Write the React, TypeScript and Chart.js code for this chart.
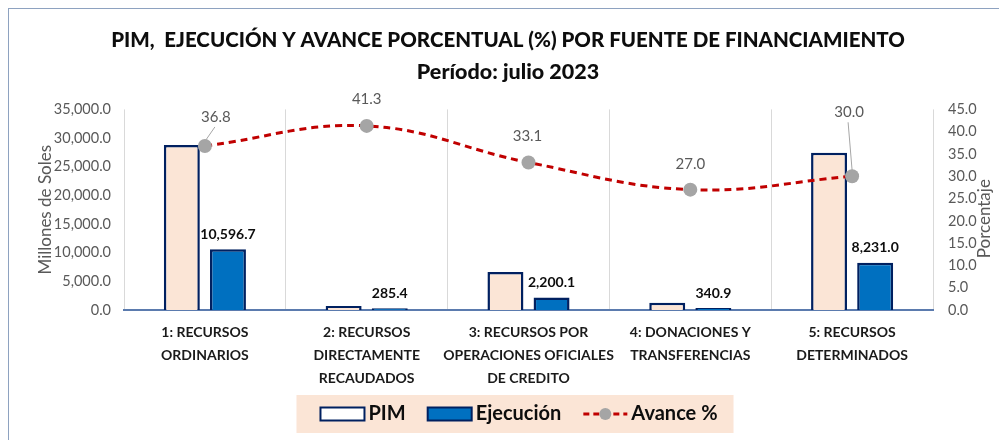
import React, { useEffect, useRef } from "react";
import { Chart, registerables } from "chart.js";

Chart.register(...registerables);

const categories: string[][] = [
  ["1: RECURSOS", "ORDINARIOS"],
  ["2: RECURSOS", "DIRECTAMENTE", "RECAUDADOS"],
  ["3: RECURSOS POR", "OPERACIONES OFICIALES", "DE CREDITO"],
  ["4: DONACIONES Y", "TRANSFERENCIAS"],
  ["5: RECURSOS", "DETERMINADOS"],
];
const pimValues = [28795, 691, 6647, 1263, 27437];
const ejecucionValues = [10596.7, 285.4, 2200.1, 340.9, 8231.0];
const avanceValues = [36.8, 41.3, 33.1, 27.0, 30.0];

const titleText = "PIM,  EJECUCIÓN Y AVANCE PORCENTUAL (%) POR FUENTE DE FINANCIAMIENTO";
const subtitleText = "Período: julio 2023";
const leftAxisTitle = "Millones de Soles";
const rightAxisTitle = "Porcentaje";

// label placement for the Avance % labels: [dx, dy, leader line]
const avanceLabelPlacement: [number, number, boolean][] = [
  [11, -29, true],
  [0, -27, false],
  [-1, -26, false],
  [0, -25, false],
  [-3, -64, true],
];

const FONT = 'Lato, "Liberation Sans", sans-serif';

const fmt1 = (v: number) =>
  v.toLocaleString("en-US", { minimumFractionDigits: 1, maximumFractionDigits: 1 });

const labelsPlugin = {
  id: "valueLabels",
  afterDatasetsDraw(chart: any) {
    const ctx = chart.ctx;
    ctx.save();
    const barMeta = chart.getDatasetMeta(1);
    ctx.font = `bold 14px ${FONT}`;
    ctx.fillStyle = "#0D0D0D";
    ctx.textAlign = "center";
    ctx.textBaseline = "middle";
    barMeta.data.forEach((el: any, i: number) => {
      ctx.fillText(fmt1(ejecucionValues[i]), el.x, el.y - 15);
    });
    const lineMeta = chart.getDatasetMeta(2);
    ctx.font = `15px ${FONT}`;
    ctx.fillStyle = "#595959";
    lineMeta.data.forEach((el: any, i: number) => {
      const [dx, dy, leader] = avanceLabelPlacement[i];
      const lx = el.x + dx;
      const ly = el.y + dy;
      if (leader) {
        ctx.strokeStyle = "#A6A6A6";
        ctx.lineWidth = 1;
        ctx.beginPath();
        ctx.moveTo(lx - 1, ly + 10);
        ctx.lineTo(el.x + (dx > 0 ? 1 : 0), el.y - 6);
        ctx.stroke();
      }
      ctx.fillText(fmt1(avanceValues[i]), lx, ly);
    });
    ctx.restore();
  },
};

const rightTitlePlugin = {
  id: "rightTitle",
  afterDraw(chart: any) {
    const ctx = chart.ctx;
    const s = chart.scales.y1;
    ctx.save();
    ctx.font = `17px ${FONT}`;
    ctx.fillStyle = "#595959";
    ctx.textAlign = "center";
    ctx.textBaseline = "middle";
    ctx.translate(s.right - 22, (s.top + s.bottom) / 2 + 9);
    ctx.rotate(-Math.PI / 2);
    ctx.fillText(rightAxisTitle, 0, 0);
    ctx.restore();
  },
};

const legendPlugin = {
  id: "customLegend",
  afterDraw(chart: any) {
    const ctx = chart.ctx;
    const ds = chart.data.datasets;
    ctx.save();
    ctx.font = `bold 20px ${FONT}`;
    const symW = 44;
    const gapSym = 4;
    const gapItem = 22;
    const padL = 24;
    const padR = 16;
    const texts = ds.map((d: any) => d.label);
    let total = padL + padR;
    texts.forEach((t: string, i: number) => {
      total += symW + gapSym + ctx.measureText(t).width;
      if (i < texts.length - 1) total += gapItem;
    });
    const boxH = 38;
    const left = chart.width / 2 + 7 - total / 2;
    const top = chart.height - 45;
    ctx.fillStyle = "#FBE5D6";
    ctx.fillRect(left, top, total, boxH);
    const cy = top + boxH / 2;
    let x = left + padL;
    ds.forEach((d: any, i: number) => {
      if (d.type === "line") {
        ctx.strokeStyle = d.borderColor;
        ctx.lineWidth = 3;
        ctx.setLineDash([6, 4]);
        ctx.beginPath();
        ctx.moveTo(x, cy);
        ctx.lineTo(x + symW, cy);
        ctx.stroke();
        ctx.setLineDash([]);
        ctx.fillStyle = d.pointBackgroundColor;
        ctx.beginPath();
        ctx.arc(x + symW / 2, cy, 6, 0, Math.PI * 2);
        ctx.fill();
      } else {
        ctx.fillStyle = i === 0 ? "#FFFFFF" : d.backgroundColor;
        ctx.fillRect(x, cy - 6.5, symW, 13);
        ctx.strokeStyle = d.borderColor;
        ctx.lineWidth = 2;
        ctx.strokeRect(x, cy - 6.5, symW, 13);
      }
      x += symW + gapSym;
      ctx.fillStyle = "#0D0D0D";
      ctx.textAlign = "left";
      ctx.textBaseline = "middle";
      ctx.fillText(texts[i], x, cy);
      x += ctx.measureText(texts[i]).width + gapItem;
    });
    ctx.restore();
  },
};

export default function App() {
  const ref = useRef<HTMLCanvasElement | null>(null);

  useEffect(() => {
    if (!ref.current) return;
    const chart = new Chart(ref.current, {
      type: "bar",
      data: {
        labels: categories,
        datasets: [
          {
            type: "bar",
            label: "PIM",
            data: pimValues,
            backgroundColor: "#FBE5D6",
            borderColor: "#002060",
            borderWidth: 2.5,
            categoryPercentage: 0.57,
            barPercentage: 0.78,
            yAxisID: "y",
            order: 1,
          },
          {
            type: "bar",
            label: "Ejecución",
            data: ejecucionValues,
            backgroundColor: "#0070C0",
            borderColor: "#002060",
            borderWidth: 2.5,
            categoryPercentage: 0.57,
            barPercentage: 0.78,
            yAxisID: "y",
            order: 1,
          },
          {
            type: "line",
            label: "Avance %",
            data: avanceValues,
            borderColor: "#C00000",
            borderWidth: 3,
            borderDash: [7, 5],
            tension: 0.4,
            pointRadius: 7,
            pointBackgroundColor: "#A5A5A5",
            pointBorderWidth: 0,
            pointBorderColor: "#A5A5A5",
            fill: false,
            yAxisID: "y1",
            order: 0,
          } as any,
        ],
      },
      options: {
        responsive: false,
        animation: false,
        layout: { padding: 0 },
        plugins: {
          legend: { display: false },
          tooltip: { enabled: false },
          title: {
            display: true,
            text: titleText,
            color: "#0D0D0D",
            font: { family: FONT, size: 20.5, weight: "900", lineHeight: 1.2 },
            padding: { top: 19, bottom: 7 },
          },
          subtitle: {
            display: true,
            text: subtitleText,
            color: "#0D0D0D",
            font: { family: FONT, size: 21.5, weight: "900", lineHeight: 1.2 },
            padding: { top: 0, bottom: 24 },
          },
        },
        scales: {
          x: {
            offset: true,
            grid: { display: true, offset: true, color: "#D9D9D9", lineWidth: 1, drawTicks: false },
            border: { display: true, color: "#5B7BAE", width: 2 },
            ticks: {
              color: "#1A1A1A",
              font: { family: FONT, size: 14, weight: "bold", lineHeight: 1.65 },
              padding: 11,
              maxRotation: 0,
              autoSkip: false,
            },
            afterFit: (s: any) => {
              s.height = 130;
            },
          },
          y: {
            position: "left",
            min: 0,
            max: 35000,
            grid: { display: false, drawTicks: false },
            border: { display: false },
            ticks: {
              stepSize: 5000,
              color: "#595959",
              font: { family: FONT, size: 14.5 },
              padding: 13,
              callback: (v: any) => fmt1(Number(v)),
            },
            title: {
              display: true,
              text: leftAxisTitle,
              color: "#595959",
              font: { family: FONT, size: 17 },
              padding: { top: 26, bottom: 0 },
            },
            afterFit: (s: any) => {
              s.width = 115;
            },
          },
          y1: {
            position: "right",
            min: 0,
            max: 45,
            grid: { display: false, drawTicks: false },
            border: { display: false },
            ticks: {
              stepSize: 5,
              color: "#595959",
              font: { family: FONT, size: 14.5 },
              padding: 15,
              callback: (v: any) => Number(v).toFixed(1),
            },
            afterFit: (s: any) => {
              s.width = 74;
            },
          },
        },
      } as any,
      plugins: [labelsPlugin, rightTitlePlugin, legendPlugin],
    });
    return () => chart.destroy();
  }, []);

  return (
    <>
      <style>{"html,body{overflow:hidden;}"}</style>
      <div
        style={{
          width: 998,
          height: 431,
          borderLeft: "1px solid #8EA2C0",
          borderTop: "1px solid #8EA2C0",
        }}
      >
        <canvas ref={ref} width={998} height={431} style={{ display: "block" }} />
      </div>
    </>
  );
}
